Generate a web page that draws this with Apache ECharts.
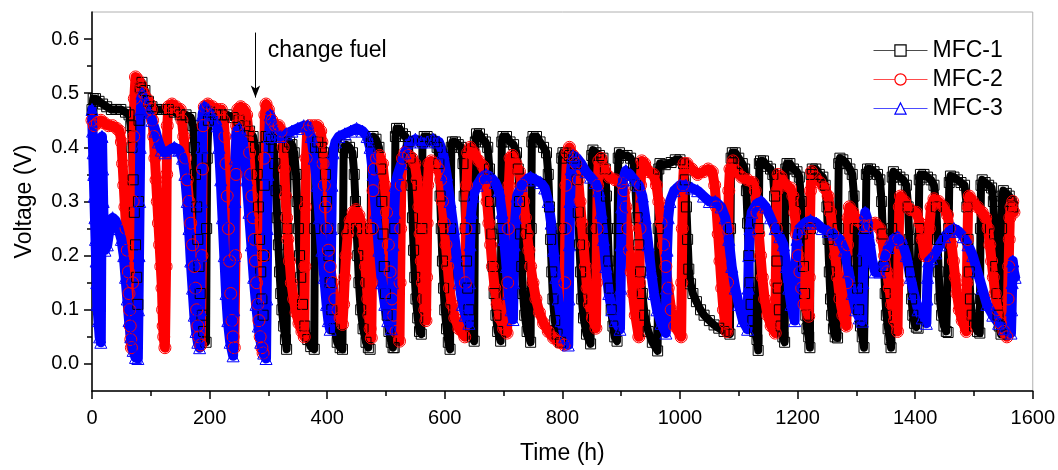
<!DOCTYPE html>
<html>
<head>
<meta charset="utf-8">
<script src="https://cdn.jsdelivr.net/npm/echarts@6/dist/echarts.min.js"></script>
<style>
html,body{margin:0;padding:0;background:#fff;}
#chart{width:1058px;height:470px;}
</style>
</head>
<body>
<div id="chart"></div>
<script>
// ---------- DATA ----------
var seriesNames = ['MFC-1', 'MFC-2', 'MFC-3'];
var xTickLabels = [0, 200, 400, 600, 800, 1000, 1200, 1400, 1600];
var yTickLabels = [0.0, 0.1, 0.2, 0.3, 0.4, 0.5, 0.6];
var yMinorTicks = [0.05, 0.15, 0.25, 0.35, 0.45, 0.55];
var annotationText = 'change fuel';

// MFC-1 (black squares): [time h, voltage V]
var mfc1 = [
[0,0.47],[2,0.49],[6,0.49],[12,0.485],[18,0.48],[25,0.475],[33,0.47],[41,0.47],[49,0.47],[57,0.465],[63,0.46],[66,0.44],[68,0.40],[70,0.34],[72,0.28],[74,0.22],[76,0.16],[78,0.11],
[79,0.3],[80,0.45],[82,0.51],[85,0.52],[90,0.505],[96,0.485],[102,0.475],[110,0.47],[120,0.47],[130,0.47],[140,0.465],[150,0.46],[160,0.46],[168,0.455],[172,0.44],[174,0.40],[176,0.35],[178,0.29],[180,0.23],[182,0.18],[184,0.13],[187,0.09],[190,0.06],[194,0.04],
[195,0.25],[196,0.38],[198,0.45],[201,0.465],[210,0.46],[220,0.46],[230,0.46],[240,0.455],[250,0.45],[260,0.44],[268,0.43],[274,0.42],[278,0.40],[281,0.35],[283,0.29],[285,0.23],[287,0.17],[289,0.12],[291,0.09],
[292,0.2],[293,0.33],[294,0.40],[296,0.42],[300,0.42],[305,0.415],[309,0.40],[311,0.37],[313,0.32],[315,0.27],[317,0.22],[319,0.17],[321,0.13],[323,0.10],[326,0.07],[329,0.045],[331,0.027],
[332,0.25],[333,0.40],[336,0.41],[340,0.405],[344,0.39],[347,0.35],[349,0.30],[351,0.25],[353,0.20],[355,0.16],[358,0.11],[362,0.07],[367,0.045],[372,0.032],[378,0.027],
[379,0.25],[380,0.40],[384,0.41],[390,0.40],[394,0.39],[397,0.35],[399,0.30],[401,0.25],[403,0.20],[405,0.15],[408,0.10],[412,0.065],[417,0.04],[422,0.03],[426,0.027],
[427,0.25],[428,0.40],[432,0.405],[438,0.40],[443,0.39],[446,0.35],[448,0.30],[450,0.25],[452,0.20],[454,0.15],[457,0.10],[461,0.065],[466,0.04],[470,0.03],[473,0.027],
[474,0.25],[475,0.41],[478,0.42],[483,0.415],[488,0.40],[491,0.36],[493,0.30],[495,0.24],[497,0.18],[499,0.13],[502,0.09],[505,0.06],[509,0.04],[512,0.03],[514,0.03],
[515,0.25],[516,0.42],[518,0.435],[523,0.435],[528,0.425],[533,0.42],[538,0.41],[541,0.38],[543,0.33],[545,0.27],[547,0.21],[549,0.16],[551,0.12],[554,0.085],[557,0.06],[560,0.055],
[561,0.25],[562,0.41],[565,0.42],[570,0.42],[576,0.415],[582,0.41],[587,0.40],[590,0.37],[592,0.31],[594,0.25],[596,0.19],[598,0.14],[600,0.10],[603,0.065],[606,0.04],[609,0.027],
[610,0.25],[611,0.40],[613,0.41],[618,0.41],[623,0.405],[628,0.40],[631,0.37],[633,0.31],[635,0.25],[637,0.19],[639,0.14],[641,0.10],[644,0.07],[647,0.05],[650,0.042],
[651,0.25],[652,0.41],[654,0.425],[659,0.425],[664,0.415],[669,0.41],[673,0.40],[676,0.36],[678,0.30],[680,0.24],[682,0.18],[684,0.13],[687,0.09],[690,0.06],[695,0.042],
[696,0.25],[697,0.41],[699,0.42],[705,0.42],[711,0.41],[717,0.405],[722,0.39],[725,0.36],[727,0.30],[729,0.24],[731,0.18],[733,0.13],[736,0.09],[740,0.06],[746,0.04],
[747,0.25],[748,0.41],[750,0.42],[756,0.42],[762,0.41],[768,0.40],[773,0.39],[776,0.35],[778,0.29],[780,0.23],[782,0.17],[784,0.12],[787,0.08],[791,0.055],[797,0.04],
[798,0.25],[799,0.38],[801,0.39],[806,0.39],[812,0.385],[818,0.38],[822,0.37],[825,0.34],[827,0.28],[829,0.22],[831,0.17],[833,0.12],[836,0.085],[841,0.055],[848,0.037],
[849,0.25],[850,0.385],[852,0.395],[857,0.39],[863,0.385],[869,0.38],[873,0.36],[875,0.31],[877,0.25],[879,0.19],[881,0.14],[883,0.10],[886,0.07],[889,0.05],[893,0.042],
[894,0.25],[895,0.38],[897,0.39],[903,0.385],[910,0.385],[916,0.38],[921,0.37],[924,0.33],[927,0.27],[930,0.22],[933,0.17],[936,0.13],[940,0.09],[946,0.06],[953,0.04],[962,0.024],
[963,0.25],[964,0.36],[966,0.37],[975,0.368],[985,0.372],[992,0.377],[1000,0.377],[1006,0.37],[1009,0.34],[1011,0.29],[1013,0.23],[1015,0.175],[1018,0.148],[1022,0.13],[1028,0.115],[1035,0.10],[1041,0.09],[1050,0.08],[1058,0.072],[1066,0.066],[1075,0.06],[1085,0.055],
[1086,0.25],[1087,0.38],[1089,0.39],[1094,0.39],[1100,0.38],[1106,0.37],[1110,0.36],[1113,0.32],[1115,0.26],[1117,0.20],[1119,0.15],[1121,0.11],[1124,0.08],[1127,0.06],[1131,0.045],[1133,0.025],
[1134,0.25],[1135,0.37],[1137,0.375],[1142,0.375],[1148,0.365],[1154,0.36],[1158,0.35],[1161,0.31],[1163,0.25],[1165,0.19],[1167,0.14],[1169,0.10],[1172,0.07],[1175,0.05],[1178,0.04],
[1179,0.25],[1180,0.36],[1182,0.37],[1187,0.37],[1193,0.36],[1199,0.355],[1203,0.345],[1206,0.30],[1208,0.24],[1210,0.18],[1212,0.13],[1214,0.09],[1216,0.065],[1219,0.05],[1221,0.03],
[1222,0.25],[1223,0.35],[1225,0.36],[1231,0.36],[1237,0.35],[1243,0.345],[1247,0.33],[1250,0.29],[1252,0.23],[1254,0.17],[1256,0.12],[1258,0.09],[1261,0.065],[1264,0.05],[1268,0.048],
[1269,0.25],[1270,0.37],[1272,0.38],[1277,0.377],[1283,0.37],[1289,0.36],[1293,0.35],[1296,0.31],[1298,0.25],[1300,0.19],[1302,0.14],[1304,0.10],[1307,0.07],[1310,0.05],[1313,0.03],
[1316,0.25],[1317,0.35],[1319,0.36],[1324,0.36],[1330,0.355],[1336,0.35],[1340,0.34],[1343,0.30],[1345,0.24],[1347,0.18],[1349,0.13],[1351,0.09],[1354,0.065],[1357,0.045],[1359,0.03],
[1360,0.25],[1361,0.345],[1363,0.355],[1368,0.35],[1374,0.345],[1380,0.34],[1385,0.33],[1388,0.29],[1390,0.23],[1392,0.17],[1394,0.12],[1396,0.09],[1399,0.075],[1402,0.068],[1405,0.066],
[1406,0.25],[1407,0.34],[1409,0.35],[1415,0.35],[1421,0.345],[1427,0.34],[1432,0.33],[1436,0.29],[1438,0.23],[1440,0.17],[1442,0.12],[1445,0.09],[1449,0.07],[1453,0.06],[1456,0.058],
[1457,0.25],[1458,0.335],[1460,0.347],[1466,0.345],[1472,0.34],[1478,0.335],[1484,0.33],[1488,0.29],[1490,0.23],[1492,0.17],[1494,0.12],[1497,0.09],[1501,0.07],[1506,0.06],[1510,0.057],
[1511,0.25],[1512,0.33],[1514,0.34],[1519,0.335],[1525,0.33],[1530,0.325],[1533,0.30],[1535,0.24],[1537,0.18],[1539,0.13],[1541,0.09],[1543,0.07],[1546,0.055],
[1547,0.25],[1548,0.31],[1550,0.32],[1555,0.315],[1560,0.31],[1563,0.30],[1566,0.29]
];

// MFC-2 (red circles)
var mfc2 = [
[0,0.45],[4,0.44],[9,0.445],[15,0.45],[21,0.445],[28,0.44],[35,0.44],[42,0.435],[47,0.43],[50,0.41],[52,0.37],[54,0.33],[56,0.29],[58,0.25],[60,0.21],[62,0.17],[63,0.13],[64,0.10],[65,0.07],[66,0.045],[67,0.03],
[69,0.15],[70,0.30],[71,0.42],[72,0.49],[74,0.53],[78,0.525],[83,0.515],[88,0.50],[93,0.49],[98,0.48],[101,0.47],[103,0.45],[105,0.42],[107,0.38],[109,0.34],[111,0.30],[113,0.26],[115,0.22],[117,0.18],[119,0.14],[120,0.10],[121,0.07],[122,0.05],[124,0.03],
[126,0.18],[127,0.35],[128,0.44],[130,0.475],[136,0.48],[143,0.475],[150,0.47],[153,0.45],[156,0.42],[159,0.38],[162,0.34],[165,0.30],[168,0.26],[171,0.22],[174,0.18],[176,0.14],[178,0.10],[180,0.07],[182,0.05],[185,0.035],
[187,0.2],[188,0.36],[189,0.44],[191,0.475],[197,0.48],[205,0.475],[213,0.47],[220,0.47],[224,0.45],[226,0.42],[228,0.37],[230,0.31],[232,0.25],[234,0.19],[236,0.13],[238,0.08],[240,0.05],[242,0.03],
[244,0.2],[245,0.35],[246,0.44],[248,0.47],[253,0.475],[259,0.47],[263,0.46],[266,0.43],[268,0.39],[270,0.35],[272,0.31],[274,0.27],[276,0.23],[278,0.19],[280,0.15],[282,0.11],[284,0.08],[286,0.05],[289,0.03],[291,0.02],
[292,0.2],[293,0.38],[294,0.46],[296,0.48],[300,0.47],[306,0.45],[312,0.44],[318,0.44],[322,0.43],[325,0.40],[327,0.36],[329,0.31],[331,0.27],[333,0.23],[336,0.19],[339,0.15],[343,0.12],[347,0.095],[352,0.075],[357,0.06],[361,0.05],
[362,0.18],[363,0.29],[364,0.38],[366,0.43],[370,0.44],[377,0.44],[384,0.44],[389,0.43],[391,0.41],[393,0.37],[395,0.33],[397,0.29],[399,0.25],[402,0.21],[405,0.18],[409,0.15],[413,0.12],[418,0.10],[422,0.085],[426,0.073],
[428,0.11],[430,0.16],[432,0.20],[435,0.24],[439,0.265],[444,0.28],[449,0.285],[454,0.275],[458,0.26],[461,0.24],[463,0.21],[465,0.18],[467,0.15],[469,0.12],[471,0.09],[473,0.065],[475,0.048],
[476,0.15],[477,0.25],[478,0.32],[480,0.36],[484,0.38],[489,0.385],[494,0.37],[498,0.33],[501,0.28],[504,0.22],[507,0.17],[510,0.12],[513,0.09],[517,0.06],[523,0.042],
[524,0.15],[525,0.25],[526,0.33],[528,0.38],[532,0.39],[538,0.385],[544,0.38],[549,0.37],[553,0.34],[556,0.29],[558,0.24],[560,0.19],[562,0.15],[564,0.12],[566,0.10],[568,0.08],
[569,0.16],[570,0.26],[571,0.33],[573,0.37],[577,0.375],[583,0.37],[589,0.36],[593,0.34],[596,0.30],[599,0.26],[602,0.22],[605,0.18],[608,0.14],[612,0.11],[617,0.085],[624,0.065],[634,0.05],
[635,0.15],[636,0.25],[637,0.33],[639,0.39],[643,0.40],[650,0.39],[658,0.375],[665,0.365],[669,0.34],[672,0.30],[675,0.26],[678,0.22],[681,0.18],[685,0.14],[689,0.11],[694,0.085],[700,0.065],[706,0.057],
[707,0.15],[708,0.25],[709,0.33],[711,0.38],[715,0.385],[721,0.37],[727,0.355],[731,0.33],[734,0.30],[737,0.27],[740,0.24],[743,0.21],[746,0.18],[750,0.15],[755,0.12],[761,0.095],[768,0.075],[776,0.06],[785,0.048],[794,0.04],[803,0.035],
[804,0.15],[805,0.25],[806,0.33],[808,0.39],[812,0.40],[818,0.385],[823,0.37],[827,0.34],[830,0.30],[833,0.26],[836,0.22],[839,0.18],[842,0.14],[846,0.11],[851,0.085],[857,0.066],
[858,0.15],[859,0.25],[860,0.33],[862,0.375],[866,0.38],[872,0.36],[880,0.345],[890,0.34],[900,0.335],[905,0.32],[908,0.29],[911,0.25],[914,0.21],[917,0.17],[920,0.13],[924,0.09],[930,0.05],
[931,0.15],[932,0.25],[933,0.33],[935,0.375],[940,0.37],[947,0.355],[955,0.35],[960,0.33],[964,0.30],[968,0.26],[972,0.22],[976,0.18],[980,0.14],[985,0.10],[991,0.07],[1002,0.05],
[1003,0.15],[1004,0.25],[1005,0.33],[1007,0.37],[1012,0.37],[1020,0.36],[1030,0.35],[1040,0.355],[1048,0.36],[1055,0.355],[1059,0.33],[1062,0.29],[1065,0.24],[1068,0.19],[1071,0.14],[1074,0.10],[1077,0.075],[1080,0.06],
[1081,0.15],[1082,0.25],[1083,0.32],[1085,0.36],[1090,0.375],[1097,0.355],[1105,0.345],[1115,0.34],[1124,0.335],[1128,0.32],[1131,0.28],[1134,0.24],[1137,0.20],[1140,0.16],[1144,0.12],[1149,0.09],[1155,0.07],[1162,0.057],
[1163,0.15],[1164,0.25],[1165,0.32],[1167,0.35],[1172,0.345],[1180,0.33],[1188,0.325],[1192,0.31],[1195,0.28],[1198,0.24],[1201,0.20],[1204,0.17],[1207,0.14],[1211,0.11],[1219,0.088],
[1220,0.16],[1221,0.25],[1222,0.32],[1224,0.355],[1230,0.345],[1238,0.335],[1246,0.325],[1252,0.31],[1256,0.28],[1260,0.24],[1264,0.20],[1268,0.16],[1272,0.12],[1277,0.09],[1283,0.07],
[1284,0.15],[1285,0.22],[1286,0.27],[1288,0.29],[1294,0.28],[1302,0.265],[1312,0.255],[1322,0.255],[1332,0.26],[1340,0.25],[1344,0.23],[1348,0.20],[1352,0.17],[1356,0.14],[1360,0.11],[1365,0.08],[1370,0.06],
[1371,0.15],[1372,0.23],[1373,0.29],[1375,0.31],[1382,0.30],[1392,0.285],[1402,0.28],[1408,0.26],[1412,0.23],[1416,0.20],[1420,0.20],[1424,0.25],[1427,0.29],[1432,0.305],[1440,0.30],[1448,0.29],[1455,0.275],[1459,0.25],[1462,0.22],[1465,0.19],[1468,0.16],[1471,0.13],[1475,0.10],[1480,0.08],[1487,0.06],
[1488,0.15],[1489,0.23],[1490,0.29],[1492,0.31],[1498,0.30],[1506,0.29],[1514,0.28],[1520,0.27],[1524,0.25],[1527,0.22],[1530,0.19],[1533,0.16],[1536,0.13],[1540,0.10],[1545,0.075],[1551,0.06],[1556,0.05],
[1558,0.12],[1559,0.18],[1560,0.23],[1561,0.27],[1563,0.29],[1566,0.30],[1568,0.28]
];

// MFC-3 (blue triangles)
var mfc3 = [
[0,0.47],[1,0.43],[2,0.39],[3,0.35],[4,0.31],[5,0.27],[6,0.23],[7,0.19],[8,0.15],[9,0.11],[11,0.08],[13,0.05],[15,0.04],
[16,0.25],[17,0.42],[18,0.36],[19,0.30],[20,0.25],[22,0.21],[26,0.22],[30,0.25],[35,0.27],[40,0.265],[45,0.25],[50,0.23],[54,0.20],[57,0.16],[60,0.12],[63,0.08],[66,0.05],[70,0.025],[74,0.012],[78,0.01],
[79,0.1],[80,0.2],[81,0.3],[82,0.4],[83,0.47],[85,0.50],[90,0.48],[96,0.465],[102,0.45],[108,0.43],[113,0.41],[118,0.395],[124,0.39],[132,0.395],[140,0.40],[148,0.395],[154,0.38],[158,0.35],[162,0.30],[165,0.25],[168,0.19],[171,0.14],[174,0.09],[177,0.06],[180,0.04],[183,0.03],
[184,0.1],[185,0.2],[186,0.3],[187,0.4],[188,0.46],[191,0.475],[197,0.47],[203,0.46],[209,0.45],[213,0.44],[216,0.40],[219,0.34],[222,0.27],[225,0.20],[228,0.13],[231,0.08],[235,0.04],[240,0.015],
[241,0.1],[242,0.2],[243,0.3],[244,0.38],[246,0.43],[250,0.435],[255,0.42],[259,0.39],[263,0.34],[267,0.28],[271,0.22],[275,0.16],[279,0.11],[283,0.07],[287,0.04],[292,0.02],[296,0.01],
[297,0.12],[298,0.25],[299,0.35],[301,0.42],[303,0.46],[307,0.44],[312,0.42],[320,0.42],[330,0.425],[340,0.43],[350,0.435],[360,0.44],[367,0.44],[373,0.42],[378,0.38],[383,0.33],[387,0.27],[391,0.21],[395,0.16],[399,0.11],[402,0.08],[405,0.064],
[406,0.15],[407,0.25],[408,0.33],[410,0.39],[414,0.41],[420,0.42],[430,0.425],[440,0.43],[450,0.435],[460,0.43],[468,0.42],[473,0.40],[478,0.35],[483,0.28],[488,0.21],[493,0.15],[498,0.11],[503,0.08],[509,0.065],
[511,0.15],[512,0.22],[514,0.28],[516,0.33],[520,0.35],[526,0.37],[532,0.39],[540,0.41],[550,0.415],[560,0.41],[570,0.41],[580,0.415],[590,0.41],[597,0.39],[603,0.35],[609,0.30],[615,0.25],[620,0.20],[625,0.15],[630,0.11],[635,0.09],[641,0.075],
[642,0.15],[643,0.22],[645,0.28],[648,0.31],[655,0.33],[663,0.345],[670,0.35],[678,0.345],[686,0.335],[692,0.32],[697,0.28],[701,0.23],[705,0.18],[709,0.13],[713,0.10],[716,0.082],
[717,0.15],[718,0.22],[720,0.27],[723,0.31],[730,0.33],[738,0.34],[746,0.345],[755,0.34],[763,0.335],[770,0.325],[776,0.30],[781,0.26],[785,0.21],[789,0.16],[793,0.12],[798,0.08],[804,0.05],[810,0.035],
[811,0.12],[812,0.22],[813,0.30],[815,0.36],[818,0.385],[825,0.38],[832,0.37],[840,0.355],[848,0.345],[856,0.335],[862,0.32],[866,0.28],[870,0.23],[874,0.18],[879,0.13],[884,0.10],[890,0.08],[898,0.064],
[899,0.14],[900,0.22],[901,0.29],[903,0.34],[908,0.357],[915,0.35],[922,0.34],[930,0.33],[936,0.31],[941,0.27],[946,0.22],[951,0.17],[956,0.13],[961,0.10],[968,0.075],[976,0.057],
[977,0.14],[978,0.21],[980,0.27],[983,0.30],[990,0.32],[1000,0.33],[1010,0.33],[1020,0.325],[1030,0.32],[1040,0.31],[1050,0.30],[1060,0.30],[1070,0.29],[1077,0.27],[1083,0.23],[1088,0.18],[1094,0.14],[1100,0.11],[1107,0.08],[1115,0.064],
[1116,0.14],[1117,0.20],[1119,0.25],[1122,0.28],[1130,0.295],[1138,0.30],[1146,0.29],[1154,0.27],[1162,0.25],[1170,0.235],[1176,0.22],[1181,0.18],[1185,0.14],[1189,0.11],[1195,0.08],
[1196,0.14],[1197,0.19],[1199,0.23],[1203,0.25],[1212,0.26],[1222,0.265],[1232,0.26],[1242,0.25],[1252,0.245],[1262,0.24],[1272,0.23],[1280,0.21],[1287,0.17],[1293,0.13],[1299,0.10],[1305,0.085],[1310,0.079],
[1311,0.15],[1312,0.21],[1313,0.25],[1315,0.28],[1318,0.27],[1322,0.23],[1327,0.19],[1332,0.17],[1340,0.17],[1347,0.19],[1354,0.215],[1362,0.23],[1370,0.235],[1378,0.225],[1385,0.20],[1392,0.16],[1398,0.13],[1405,0.10],[1412,0.085],[1419,0.075],
[1420,0.12],[1421,0.16],[1423,0.19],[1428,0.195],[1435,0.205],[1442,0.22],[1450,0.235],[1458,0.245],[1466,0.25],[1474,0.245],[1482,0.235],[1490,0.22],[1498,0.20],[1506,0.17],[1514,0.14],[1522,0.11],[1532,0.09],[1542,0.075],[1552,0.065],[1563,0.057],
[1564,0.10],[1565,0.15],[1566,0.19],[1568,0.17],[1570,0.16]
];

// ---------- CHART ----------
var FONT = '"Liberation Sans", Arial, sans-serif';
var chart = echarts.init(document.getElementById('chart'), null, {renderer: 'canvas'});

// dense measured points in the original fuse into solid ribbons: a thick band line
function bandSeries(data, color, width) {
  return {
    name: '_band', type: 'line', data: data, symbol: 'none',
    lineStyle: {color: color, width: width, join: 'round', cap: 'round'},
    emphasis: {disabled: true}, silent: true, animation: false, clip: true
  };
}
function markerSeries(name, data, symbol, size, color) {
  return {
    name: name, type: 'line', data: data,
    symbol: symbol, symbolSize: size, showAllSymbol: true,
    itemStyle: {color: 'rgba(255,255,255,0)', borderColor: color, borderWidth: 1},
    lineStyle: {color: color, width: 1},
    emphasis: {disabled: true}, silent: true, animation: false, clip: true
  };
}

var s1 = markerSeries(seriesNames[0], mfc1, 'rect', 10, '#000000');
s1.markLine = {
  silent: true, symbol: ['none', 'arrow'], symbolSize: [7, 12],
  lineStyle: {color: '#000', width: 1, type: 'solid'},
  label: {show: false},
  data: [[{coord: [278, 0.612]}, {coord: [278, 0.492]}]]
};
var s2 = markerSeries(seriesNames[1], mfc2, 'circle', 12, '#ff0000');
var s3 = markerSeries(seriesNames[2], mfc3, 'triangle', 12, '#0000ff');

function legendItem(name, color) {
  return {
    name: name,
    itemStyle: {color: '#fff', borderColor: color, borderWidth: 1.2},
    lineStyle: {color: color, width: 1, opacity: 0.7}
  };
}

var option = {
  backgroundColor: '#fff',
  animation: false,
  grid: {left: 92, right: 23, top: 12, bottom: 75, show: true, borderColor: '#b0b0b0', borderWidth: 1, containLabel: false},
  legend: {
    data: [legendItem(seriesNames[0], '#000000'), legendItem(seriesNames[1], '#ff0000'), legendItem(seriesNames[2], '#0000ff')],
    orient: 'vertical', left: 868, top: 34,
    itemWidth: 54, itemHeight: 14, itemGap: 6,
    lineStyle: {width: 1},
    textStyle: {fontSize: 23, color: '#000', fontFamily: FONT}
  },
  xAxis: {
    type: 'value', min: 0, max: 1600, interval: 200,
    name: 'Time (h)', nameLocation: 'middle', nameGap: 51,
    nameTextStyle: {fontSize: 23, color: '#000', fontFamily: FONT},
    axisLine: {show: true, onZero: false, lineStyle: {color: '#000', width: 1.5}},
    axisTick: {show: true, inside: false, length: 8, lineStyle: {color: '#000', width: 1.5}},
    minorTick: {show: true, splitNumber: 2, length: 5, lineStyle: {color: '#000', width: 1.5}},
    axisLabel: {fontSize: 20, color: '#000', fontFamily: FONT, margin: 17,
      customValues: xTickLabels, formatter: function (v) { return String(v); }},
    splitLine: {show: false}, minorSplitLine: {show: false}
  },
  yAxis: [{
    type: 'value', min: -0.05, max: 0.65,
    name: 'Voltage (V)', nameLocation: 'middle', nameGap: 56, nameRotate: 90,
    nameTextStyle: {fontSize: 23, color: '#000', fontFamily: FONT},
    axisLine: {show: true, onZero: false, lineStyle: {color: '#000', width: 1.5}},
    axisTick: {show: true, inside: false, length: 8, lineStyle: {color: '#000', width: 1.5}, customValues: yTickLabels},
    axisLabel: {fontSize: 20, color: '#000', fontFamily: FONT, margin: 13, customValues: yTickLabels,
      formatter: function (v) { return v.toFixed(1); }},
    splitLine: {show: false}
  }, {
    type: 'value', min: -0.05, max: 0.65, position: 'left',
    axisLine: {show: false},
    axisTick: {show: true, inside: false, length: 5, lineStyle: {color: '#000', width: 1.5}, customValues: yMinorTicks},
    axisLabel: {show: false},
    splitLine: {show: false}
  }],
  series: [
    bandSeries(mfc1, '#000000', 8), s1,
    bandSeries(mfc2, '#ff0000', 10), s2,
    bandSeries(mfc3, '#0000ff', 10), s3
  ]
};
chart.setOption(option);

var p = chart.convertToPixel({gridIndex: 0}, [299, 0.576]);
chart.setOption({
  graphic: [{
    type: 'text', left: p[0], top: p[1] - 13, silent: true,
    style: {text: annotationText, font: '23px ' + FONT, fill: '#000'}
  }]
});
</script>
</body>
</html>
